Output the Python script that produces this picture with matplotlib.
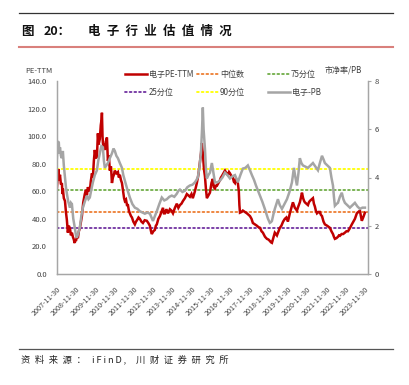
import matplotlib
matplotlib.use("Agg")
import matplotlib.pyplot as plt
from matplotlib.lines import Line2D

plt.rcParams['font.family'] = ['Noto Sans CJK SC', 'DejaVu Sans']

# ---------------- data ----------------
pe_t = [2007.91, 2007.95, 2007.99, 2008.03, 2008.07, 2008.12, 2008.17, 2008.20, 2008.22, 2008.27,
        2008.33, 2008.38, 2008.43, 2008.46, 2008.48, 2008.53, 2008.59, 2008.64, 2008.69, 2008.74,
        2008.79, 2008.82, 2008.84, 2008.87, 2008.90, 2008.95, 2009.00, 2009.05, 2009.10, 2009.15,
        2009.21, 2009.28, 2009.36, 2009.42, 2009.47, 2009.52, 2009.57, 2009.62, 2009.67, 2009.73,
        2009.78, 2009.83, 2009.88, 2009.93, 2009.99, 2010.02, 2010.04, 2010.08, 2010.14, 2010.19,
        2010.23, 2010.25, 2010.28, 2010.30, 2010.35, 2010.40, 2010.45, 2010.51, 2010.56, 2010.61,
        2010.66, 2010.72, 2010.77, 2010.82, 2010.87, 2010.92, 2011.00, 2011.08, 2011.13, 2011.18,
        2011.24, 2011.29, 2011.35, 2011.40, 2011.44, 2011.50, 2011.55, 2011.60, 2011.65, 2011.70,
        2011.76, 2011.81, 2011.88, 2011.96, 2012.02, 2012.07, 2012.15, 2012.22, 2012.30, 2012.38,
        2012.47, 2012.58, 2012.66, 2012.74, 2012.80, 2012.84, 2012.92, 2013.00, 2013.05, 2013.10,
        2013.18, 2013.26, 2013.34, 2013.42, 2013.47, 2013.52, 2013.60, 2013.68, 2013.78, 2013.86,
        2013.94, 2014.04, 2014.14, 2014.22, 2014.30, 2014.38, 2014.46, 2014.56, 2014.66, 2014.74,
        2014.82, 2014.90, 2014.97, 2015.08, 2015.18, 2015.26, 2015.34, 2015.40, 2015.44, 2015.47,
        2015.49, 2015.55, 2015.60, 2015.65, 2015.70, 2015.78, 2015.86, 2015.94, 2016.01, 2016.06,
        2016.12, 2016.17, 2016.22, 2016.30, 2016.38, 2016.43, 2016.48, 2016.56, 2016.64, 2016.72,
        2016.79, 2016.85, 2016.90, 2016.98, 2017.05, 2017.10, 2017.16, 2017.21, 2017.26, 2017.31,
        2017.36, 2017.39, 2017.42, 2017.50, 2017.57, 2017.68, 2017.78, 2017.86, 2017.94, 2018.02,
        2018.09, 2018.20, 2018.30, 2018.38, 2018.46, 2018.54, 2018.61, 2018.72, 2018.82, 2018.90,
        2018.97, 2019.03, 2019.08, 2019.15, 2019.23, 2019.29, 2019.34, 2019.42, 2019.49, 2019.57,
        2019.66, 2019.75, 2019.83, 2019.91, 2019.96, 2020.01, 2020.09, 2020.17, 2020.22, 2020.27,
        2020.33, 2020.38, 2020.45, 2020.53, 2020.58, 2020.64, 2020.70, 2020.75, 2020.79, 2020.87,
        2020.95, 2021.00, 2021.05, 2021.13, 2021.21, 2021.26, 2021.31, 2021.36, 2021.42, 2021.50,
        2021.57, 2021.62, 2021.68, 2021.76, 2021.83, 2021.95, 2022.09, 2022.17, 2022.25, 2022.30,
        2022.35, 2022.43, 2022.51, 2022.56, 2022.61, 2022.70, 2022.78, 2022.87, 2022.95, 2023.03,
        2023.12, 2023.23, 2023.31, 2023.39, 2023.44, 2023.49, 2023.57, 2023.65, 2023.70, 2023.75,
        2023.82, 2023.91]
pe_v = [62, 70, 76, 68, 72, 65, 66, 58, 62, 55,
        53, 45, 39, 33, 30, 35, 33, 28, 30, 27,
        25, 23, 22.6, 25, 24, 27, 26, 31, 33, 37,
        42, 52, 58, 61, 57, 63, 61, 60, 67, 73,
        70, 82, 90, 84, 85, 96, 102, 94, 98, 108,
        112, 117, 100, 95, 92, 90, 96, 99, 82, 86,
        75, 78, 66, 70, 72, 75, 73, 74, 70, 72,
        68, 66, 60, 55, 53, 54, 50, 50, 46, 44,
        42, 41, 38, 36, 38, 39, 41, 40, 38, 37,
        39, 38.6, 37, 35, 31, 29, 31, 32, 35, 36,
        40, 42, 45, 48, 44, 44, 47, 44, 47, 46,
        44, 48, 51, 48, 50, 51, 53, 55, 58, 57,
        56, 58, 55, 60, 66, 72, 81, 88, 95, 90,
        88, 76, 71, 62, 55, 57, 59, 66, 69, 63,
        62, 64, 64, 66, 68, 70, 71, 73, 75, 73,
        72, 74, 73, 71, 70, 67, 66, 69, 68, 66,
        60, 50, 44.5, 45, 46, 45, 44, 43, 42, 40,
        37, 36, 35, 34, 33.5, 31, 30, 27, 25.5, 25,
        24, 23, 22.6, 26, 30, 29, 28, 31, 33.5, 35,
        38, 40, 41, 38, 41, 44, 48, 52, 50, 48,
        47, 46, 49, 52, 55, 59, 55, 53, 52, 51,
        50, 52, 53, 54, 55, 51, 49, 46, 44, 45,
        45, 43, 42, 38, 36, 35, 33.5, 31, 29, 27,
        25.5, 26, 27, 28, 27.7, 29, 29, 30, 31, 31,
        33, 36, 38, 40, 42, 44, 45, 46, 42, 38.6,
        41, 44.5]

pb_t = [2007.91, 2007.96, 2008.01, 2008.04, 2008.07, 2008.12, 2008.17, 2008.22, 2008.27, 2008.33,
        2008.38, 2008.43, 2008.50, 2008.59, 2008.64, 2008.69, 2008.76, 2008.84, 2008.90, 2008.95,
        2009.02, 2009.10, 2009.18, 2009.26, 2009.36, 2009.47, 2009.55, 2009.62, 2009.70, 2009.78,
        2009.88, 2009.99, 2010.06, 2010.14, 2010.22, 2010.30, 2010.35, 2010.40, 2010.48, 2010.56,
        2010.66, 2010.77, 2010.85, 2010.92, 2011.00, 2011.08, 2011.18, 2011.29, 2011.36, 2011.44,
        2011.57, 2011.70, 2011.83, 2011.96, 2012.09, 2012.22, 2012.35, 2012.48, 2012.61, 2012.74,
        2012.82, 2012.90, 2013.00, 2013.10, 2013.23, 2013.36, 2013.49, 2013.62, 2013.75, 2013.88,
        2014.01, 2014.14, 2014.22, 2014.30, 2014.43, 2014.56, 2014.69, 2014.82, 2014.95, 2015.08,
        2015.16, 2015.23, 2015.31, 2015.39, 2015.45, 2015.49, 2015.53, 2015.60, 2015.65, 2015.70,
        2015.78, 2015.86, 2015.91, 2015.96, 2016.04, 2016.12, 2016.25, 2016.38, 2016.51, 2016.64,
        2016.77, 2016.90, 2017.03, 2017.16, 2017.24, 2017.31, 2017.44, 2017.57, 2017.70, 2017.83,
        2017.94, 2018.04, 2018.15, 2018.25, 2018.36, 2018.46, 2018.58, 2018.71, 2018.79, 2018.87,
        2018.97, 2019.03, 2019.08, 2019.15, 2019.23, 2019.31, 2019.39, 2019.49, 2019.60, 2019.73,
        2019.86, 2019.99, 2020.12, 2020.17, 2020.22, 2020.30, 2020.38, 2020.46, 2020.53, 2020.61,
        2020.69, 2020.82, 2020.95, 2021.08, 2021.21, 2021.34, 2021.47, 2021.57, 2021.68, 2021.76,
        2021.83, 2021.96, 2022.09, 2022.17, 2022.25, 2022.30, 2022.35, 2022.43, 2022.51, 2022.61,
        2022.71, 2022.79, 2022.87, 2023.00, 2023.13, 2023.26, 2023.39, 2023.52, 2023.65, 2023.78,
        2023.91]
pb_v = [4.8, 5.5, 5.45, 5.0, 5.25, 4.9, 4.8, 5.1, 4.5, 4.0,
        3.6, 3.33, 3.0, 2.75, 2.95, 2.9, 2.3, 1.92, 1.6, 1.5,
        1.7, 1.92, 2.4, 2.75, 3.0, 3.25, 3.1, 3.17, 3.5, 3.8,
        4.1, 4.3, 4.7, 5.0, 5.3, 5.25, 4.7, 4.4, 4.5, 4.6,
        4.8, 5.0, 5.2, 5.1, 4.9, 4.8, 4.6, 4.4, 4.1, 3.87,
        3.5, 3.17, 2.9, 2.75, 2.7, 2.6, 2.55, 2.5, 2.55, 2.5,
        2.35, 2.2, 2.4, 2.6, 2.9, 3.17, 3.05, 3.1, 3.2, 3.25,
        3.2, 3.33, 3.45, 3.5, 3.4, 3.45, 3.6, 3.67, 3.7, 3.8,
        3.9, 4.0, 4.4, 5.0, 6.0, 6.9, 6.0, 5.2, 4.4, 3.96,
        4.1, 4.2, 4.4, 4.6, 4.2, 3.8, 3.8, 3.87, 4.0, 4.2,
        4.1, 3.96, 4.05, 4.1, 3.95, 3.8, 4.1, 4.37, 4.4, 4.5,
        4.3, 4.1, 3.9, 3.67, 3.45, 3.25, 3.0, 2.7, 2.5, 2.3,
        2.12, 2.15, 2.2, 2.45, 2.7, 2.9, 3.1, 2.85, 2.7, 2.9,
        3.1, 3.4, 3.8, 4.1, 4.4, 4.0, 3.67, 4.2, 4.8, 4.6,
        4.5, 4.45, 4.4, 4.5, 4.6, 4.45, 4.3, 4.6, 4.9, 4.75,
        4.6, 4.5, 4.4, 4.0, 3.67, 3.2, 2.83, 2.9, 2.95, 3.2,
        3.37, 3.1, 2.95, 2.85, 2.75, 2.85, 2.95, 2.8, 2.7, 2.75,
        2.75]

pct_labels = ['25分位', '中位数', '75分位', '90分位']
pct_values = [33.6, 44.8, 61.2, 75.9]
pct_colors = ['#7030a0', '#ed7d31', '#70ad47', '#ffff00']

tick_years = list(range(2007, 2024))
tick_labels = [f'{y}-11-30' for y in tick_years]

# ---------------- figure ----------------
W, H = 410, 385
fig = plt.figure(figsize=(W / 100, H / 100), dpi=100)
fig.patch.set_facecolor('white')

def fx(x):
    return x / W

def fy(y):
    return 1 - y / H

ax = fig.add_axes([fx(56.5), fy(274), fx(368) - fx(56.5), fy(81) - fy(274)])
ax2 = ax.twinx()

for v, c in zip(pct_values, pct_colors):
    ax.axhline(v, color=c, lw=1.3, ls=(0, (1, 1.6)), dash_capstyle='round')

ax.plot(pe_t, pe_v, color='#c00000', lw=1.8, solid_joinstyle='miter')
ax2.plot(pb_t, pb_v, color='#a5a5a5', lw=1.8, solid_joinstyle='miter')

ax.set_ylim(0, 140)
ax2.set_ylim(0, 8)
ax.set_xlim(2007.89, 2024.07)
ax.set_yticks(range(0, 141, 20))
ax.set_yticklabels([f'{v:.1f}' for v in range(0, 141, 20)])
ax2.set_yticks(range(0, 9, 2))

ax.set_xticks([y + 0.91 for y in tick_years])
ax.set_xticklabels(tick_labels, rotation=45, ha='right', va='top', rotation_mode='anchor')

for a in (ax, ax2):
    for s in a.spines.values():
        s.set_color('#a6a6a6')
        s.set_linewidth(0.9)
    a.spines['top'].set_visible(False)

ax.tick_params(axis='y', length=0, pad=7, labelsize=5.5, labelcolor='#404040')
ax.tick_params(axis='x', length=0, pad=8, labelsize=5.2, labelcolor='#404040')
ax2.tick_params(axis='y', length=2.5, width=0.8, color='#a6a6a6', pad=2.5, labelsize=5.5,
                labelcolor='#404040')

# ---------------- legend (manual) ----------------
leg_items = [
    ('电子PE-TTM', '#c00000', '-', 125, 147, 74),
    ('中位数', '#ed7d31', ':', 197, 218, 74),
    ('75分位', '#70ad47', ':', 268, 289, 74),
    ('25分位', '#7030a0', ':', 125, 147, 92),
    ('90分位', '#ffff00', ':', 197, 218, 92),
    ('电子-PB', '#a5a5a5', '-', 268, 290, 92),
]
for lab, col, ls, x0, x1, y in leg_items:
    if ls == '-':
        fig.add_artist(Line2D([fx(x0), fx(x1)], [fy(y), fy(y)], color=col, lw=1.8))
    else:
        fig.add_artist(Line2D([fx(x0), fx(x1)], [fy(y), fy(y)], color=col, lw=1.3,
                              ls=(0, (1, 1.6)), dash_capstyle='round'))
    fig.text(fx(x1 + 2), fy(y), lab, fontsize=5.8, color='#404040', va='center', ha='left')

fig.text(fx(325), fy(70), '市净率/PB', fontsize=5.8, color='#404040', va='center', ha='left')
fig.text(fx(25), fy(71), 'PE-TTM', fontsize=5.5, color='#404040', va='center', ha='left')

# ---------------- title / frame lines ----------------
fig.add_artist(Line2D([fx(19), fx(393)], [fy(12.5), fy(12.5)], color='#333333', lw=0.9))
fig.add_artist(Line2D([fx(19), fx(393)], [fy(47), fy(47)], color='#d9807c', lw=1.5))
fig.add_artist(Line2D([fx(19), fx(393)], [fy(349), fy(349)], color='#555555', lw=0.9))

EN = '\u2002'
THIN = '\u2009'
tkw = dict(fontsize=9.0, fontweight='bold', color='#111111', va='baseline', ha='left')
fig.text(fx(21), fy(35), '图', **tkw)
fig.text(fx(44), fy(35), '20：', **tkw)
fig.text(fx(88), fy(35), EN.join('电子行业估值情况'), **tkw)

skw = dict(fontsize=6.7, color='#222222', va='baseline', ha='left')
fig.text(fx(21), fy(362.5), EN.join('资料来源：'), **skw)
fig.text(fx(92), fy(362.5), THIN.join('iFinD,'), **skw)
fig.text(fx(136), fy(362.5), EN.join('川财证券研究所'), **skw)

fig.savefig('out.png', dpi=100, facecolor='white')
